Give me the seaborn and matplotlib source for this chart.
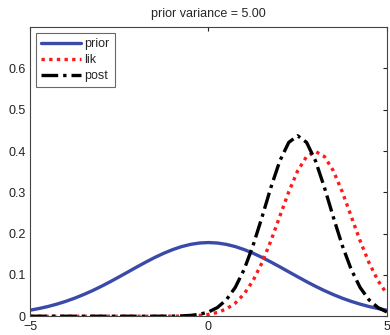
import numpy as np
import pandas as pd
import matplotlib
matplotlib.use("Agg")
import matplotlib.pyplot as plt
import seaborn as sns

sns.set_style("white")
plt.rcParams['font.family'] = ['Liberation Sans', 'DejaVu Sans']

# x grid (step 0.25 from -5 to 5) and curve heights
x_vals = [-5.0, -4.75, -4.5, -4.25, -4.0, -3.75, -3.5, -3.25, -3.0, -2.75,
          -2.5, -2.25, -2.0, -1.75, -1.5, -1.25, -1.0, -0.75, -0.5, -0.25,
          0.0, 0.25, 0.5, 0.75, 1.0, 1.25, 1.5, 1.75, 2.0, 2.25,
          2.5, 2.75, 3.0, 3.25, 3.5, 3.75, 4.0, 4.25, 4.5, 4.75, 5.0]

prior = [0.0146, 0.0187, 0.0235, 0.0293, 0.0360, 0.0437, 0.0524, 0.0620, 0.0725, 0.0837,
         0.0955, 0.1075, 0.1196, 0.1313, 0.1425, 0.1526, 0.1614, 0.1687, 0.1740, 0.1773,
         0.1784, 0.1773, 0.1740, 0.1687, 0.1614, 0.1526, 0.1425, 0.1313, 0.1196, 0.1075,
         0.0955, 0.0837, 0.0725, 0.0620, 0.0524, 0.0437, 0.0360, 0.0293, 0.0235, 0.0187,
         0.0146]

lik = [0.0, 0.0, 0.0, 0.0, 0.0, 0.0, 0.0, 0.0, 0.0, 0.0,
       0.0, 0.0, 0.0, 0.0, 0.0, 0.0, 0.0001, 0.0004, 0.0009, 0.0020,
       0.0044, 0.0091, 0.0175, 0.0317, 0.0540, 0.0863, 0.1295, 0.1826, 0.2420, 0.3011,
       0.3521, 0.3867, 0.3989, 0.3867, 0.3521, 0.3011, 0.2420, 0.1826, 0.1295, 0.0863,
       0.0540]

post = [0.0, 0.0, 0.0, 0.0, 0.0, 0.0, 0.0, 0.0, 0.0, 0.0,
        0.0, 0.0, 0.0, 0.0, 0.0, 0.0001, 0.0003, 0.0008, 0.0020, 0.0047,
        0.0103, 0.0210, 0.0396, 0.0696, 0.1133, 0.1712, 0.2398, 0.3118, 0.3762, 0.4209,
        0.4370, 0.4209, 0.3762, 0.3118, 0.2398, 0.1712, 0.1133, 0.0696, 0.0396, 0.0210,
        0.0103]

title = "prior variance = 5.00"

df = pd.DataFrame({'x': x_vals, 'prior': prior, 'lik': lik, 'post': post})

fig = plt.figure(figsize=(3.9, 3.35), dpi=100)
ax = fig.add_axes([0.077, 0.056, 0.915, 0.863])

lw = 2.4
sns.lineplot(data=df, x='x', y='prior', ax=ax, color='#3a4aa8', lw=lw, label='prior')
sns.lineplot(data=df, x='x', y='lik', ax=ax, color='#ff1a1a', lw=lw,
             linestyle=(0, (1, 1.3)), dash_capstyle='butt', label='lik')
sns.lineplot(data=df, x='x', y='post', ax=ax, color='black', lw=lw,
             linestyle=(0, (5, 1.5, 1, 1.5)), dash_capstyle='butt', label='post')

ax.set_xlim(-5, 5)
ax.set_ylim(0, 0.7)
ax.set_xticks([-5, 0, 5])
ax.set_xticklabels(['\u22125', '0', '5'])
ax.set_yticks([0, 0.1, 0.2, 0.3, 0.4, 0.5, 0.6])
ax.set_yticklabels(['0', '0.1', '0.2', '0.3', '0.4', '0.5', '0.6'])
ax.set_xlabel('')
ax.set_ylabel('')
ax.tick_params(direction='in', length=3, width=0.8, labelsize=9, colors='#222222',
               top=True, right=True)
ax.tick_params(axis='x', pad=3.5)
ax.tick_params(axis='y', pad=3)
for s in ax.spines.values():
    s.set_visible(True)
    s.set_color('#444444')
    s.set_linewidth(0.8)
ax.set_title(title, fontsize=9, pad=7)

leg = ax.legend(loc='upper left', fontsize=9, frameon=True, fancybox=False,
                handlelength=3.2, handletextpad=0.25, borderpad=0.4,
                labelspacing=0.3, borderaxespad=0.5)
leg.get_frame().set_edgecolor('#444444')
leg.get_frame().set_linewidth(0.8)

fig.savefig('out.png', dpi=100)
